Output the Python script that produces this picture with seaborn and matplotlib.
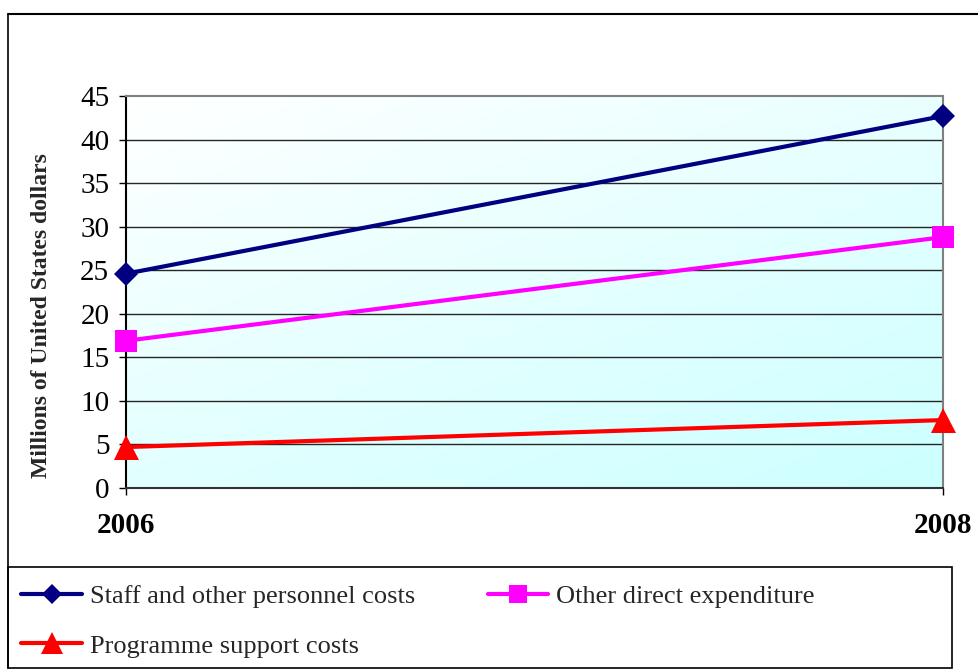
import numpy as np
import pandas as pd
import matplotlib
matplotlib.use("Agg")
import matplotlib.pyplot as plt
from matplotlib.patches import Rectangle
from matplotlib.lines import Line2D
import seaborn as sns

# Expenditure, millions of US dollars
years = [2006, 2008]
series = ["Staff and other personnel costs", "Other direct expenditure", "Programme support costs"]
staff_costs = [24.6, 42.7]
other_direct = [16.9, 28.8]
programme_support = [4.7, 7.8]
yticks = [0, 5, 10, 15, 20, 25, 30, 35, 40, 45]

colors = ["#000080", "#ff00ff", "#ff0000"]
markers = ["D", "s", "^"]
msizes = [12, 16, 18]

sns.set_theme(style="white")
plt.rcParams["font.family"] = ["Liberation Serif", "DejaVu Serif"]

W, H = 979, 669
fig = plt.figure(figsize=(W / 100, H / 100), dpi=100)
fig.patch.set_facecolor("white")

def fx(px):
    return px / W

def fy(py):
    return 1 - py / H

ax = fig.add_axes([fx(126), fy(488), fx(943) - fx(126), fy(96) - fy(488)])

# Gradient background: white at top-left to pale cyan at bottom-right
n = 256
gx, gy = np.meshgrid(np.linspace(0, 1, n), np.linspace(0, 1, n))
t = np.clip((gx * 0.6 + gy * 0.8) / 1.4, 0, 1)
start = np.array([1.0, 1.0, 1.0])
end = np.array([0.80, 1.0, 1.0])
img = start[None, None, :] * (1 - t[..., None]) + end[None, None, :] * t[..., None]
ax.imshow(img, extent=[0, 1, 0, 1], transform=ax.transAxes, aspect="auto",
          origin="upper", zorder=0, interpolation="bilinear")

values = [staff_costs, other_direct, programme_support]
for name, vals, c, m, ms in zip(series, values, colors, markers, msizes):
    df = pd.DataFrame({"Year": years, "Value": vals})
    sns.lineplot(data=df, x="Year", y="Value", ax=ax, color=c, marker=m,
                 markersize=ms, markeredgewidth=0, linewidth=3, legend=False,
                 clip_on=False, zorder=4)

ax.set_xlim(2006, 2008)
ax.set_ylim(0, 45)
ax.set_yticks(yticks)
ax.set_yticklabels([str(v) for v in yticks], fontsize=21)
ax.set_xticks(years)
ax.set_xticklabels([str(y) for y in years], fontsize=21, fontweight="bold")
ax.set_xlabel("")
ax.set_ylabel("")

for yv in yticks[1:-1]:
    ax.axhline(yv, color="#262626", lw=1.0, zorder=1)

ax.tick_params(axis="y", direction="out", length=5, width=1, color="black",
               pad=7, left=True, labelcolor="black")
ax.tick_params(axis="x", direction="out", length=5, width=1, color="black",
               pad=12, bottom=True, labelcolor="black")
ax.spines["left"].set_color("black")
ax.spines["bottom"].set_color("#333333")
ax.spines["top"].set_color("#808080")
ax.spines["right"].set_color("#808080")
for s in ax.spines.values():
    s.set_linewidth(1.5)
    s.set_zorder(2)
ax.set_zorder(2)

fig.text(fx(42), fy(316), "Millions of United States dollars", rotation=90,
         ha="center", va="center", fontsize=17, fontweight="bold")

# Outer frame (top, left edges) and legend frame
fig.add_artist(Line2D([fx(8), 1.0], [fy(14), fy(14)], color="black", lw=1.5,
                      transform=fig.transFigure))
fig.add_artist(Line2D([fx(8), fx(8)], [fy(14), fy(668)], color="black", lw=1.2,
                      transform=fig.transFigure))
fig.add_artist(Rectangle((fx(8), fy(668)), fx(952) - fx(8), fy(567) - fy(668),
                         transform=fig.transFigure, fill=False,
                         edgecolor="black", lw=1.2))

handles = [Line2D([], [], color=c, marker=m, markersize=ms * 0.85,
                  markeredgewidth=0, lw=3)
           for c, m, ms in zip(colors, markers, msizes)]
# legend fills column-wise, so order entries to read row-wise
order = [0, 2, 1]
leg = fig.legend([handles[i] for i in order], [series[i] for i in order],
                 loc="upper left", bbox_to_anchor=(fx(16), fy(579)), ncol=2,
                 frameon=False, fontsize=19, handlelength=2.3,
                 handletextpad=0.3, columnspacing=2.75, labelspacing=1.0,
                 borderpad=0.2, borderaxespad=0)

fig.savefig("out.png", dpi=100)
